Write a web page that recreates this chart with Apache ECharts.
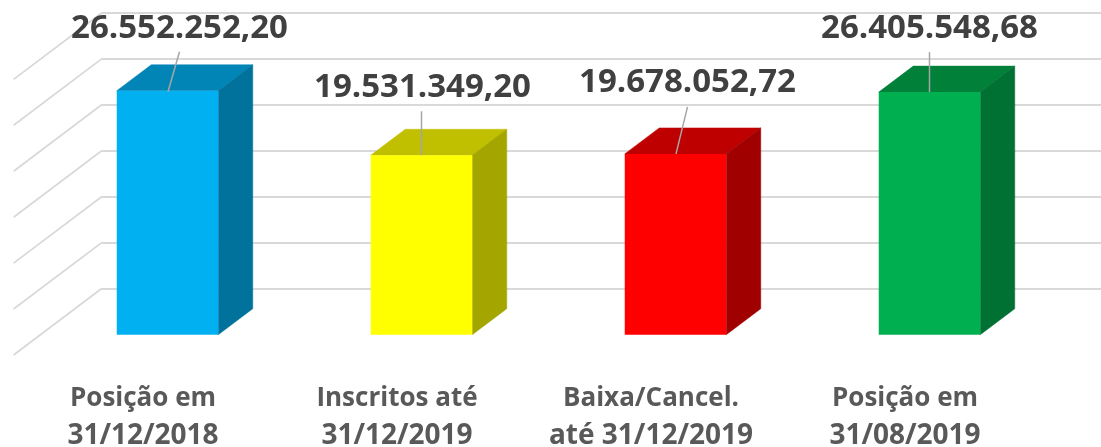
<!DOCTYPE html>
<html><head><meta charset="utf-8">
<style>html,body{margin:0;padding:0;background:#fff}#c{width:1101px;height:447px}</style>
<script src="https://cdn.jsdelivr.net/npm/echarts@6/dist/echarts.min.js"></script>
</head><body><div id="c"></div>
<script>
const categories = ['Posição em\n31/12/2018','Inscritos até\n31/12/2019','Baixa/Cancel.\naté 31/12/2019','Posição em\n31/08/2019'];
const values = [26552252.20, 19531349.20, 19678052.72, 26405548.68];
const valueLabels = ['26.552.252,20','19.531.349,20','19.678.052,72','26.405.548,68'];
const wallTicks = [0,5000000,10000000,15000000,20000000,25000000,30000000];
const frontColors = ['#00B0F0','#FFFF00','#FF0000','#00B050'];
const topColors = ['#0085B6','#C0BF00','#BF0000','#008039'];
const sideColors = ['#00729C','#A5A500','#A00000','#007033'];

// layout
const floorDepth = {dx:88.4, dy:66.7};
const barFront = {dx:61.5, dy:46.4};
const barDepth = {dx:34.5, dy:26};
const barWidth = 101.5;
const labelText = [{dx:12,dy:-62},{dx:1,dy:-68},{dx:12,dy:-71},{dx:0,dy:-64}];
const leader = [{dx0:0.5,dy0:1,dx1:12,dy1:-39},{dx0:0,dy0:0,dx1:0,dy1:-44},{dx0:0.5,dy0:0,dx1:12,dy1:-47},{dx0:0,dy0:0,dx1:0,dy1:-40}];

function wallItem(params, api){
  const p = api.coord([0, api.value(0)]);
  const x = params.coordSys.x;
  return {type:'line', silent:true,
    shape:{x1:x, y1:p[1], x2:x-floorDepth.dx, y2:p[1]+floorDepth.dy},
    style:{stroke:'#D9D9D9', lineWidth:1.8, fill:null}};
}
function barItem(params, api){
  const i = params.dataIndex;
  const base = api.coord([api.value(0), 0]);
  const top = api.coord([api.value(0), api.value(1)]);
  const cx = base[0]-barFront.dx;
  const l = cx-barWidth/2, r = cx+barWidth/2;
  const b = base[1]+barFront.dy, t = top[1]+barFront.dy;
  const dx = barDepth.dx, dy = barDepth.dy;
  const poly = (pts,fill)=>({type:'polygon', shape:{points:pts}, style:{fill, stroke:fill, lineWidth:0.5}});
  const a = labelText[i], ln = leader[i];
  return {type:'group', children:[
    poly([[l,t],[r,t],[r+dx,t-dy],[l+dx,t-dy]], topColors[i]),
    poly([[r,t],[r+dx,t-dy],[r+dx,b-dy],[r,b]], sideColors[i]),
    {type:'rect', shape:{x:l,y:t,width:barWidth,height:b-t}, style:{fill:frontColors[i]}},
    {type:'line', shape:{x1:cx+ln.dx0,y1:t+ln.dy0,x2:cx+ln.dx1,y2:t+ln.dy1}, style:{stroke:'#A6A6A6',lineWidth:1.5,fill:null}},
    {type:'text', z2:10, style:{text:valueLabels[i], x:cx+a.dx, y:t+a.dy, align:'center', verticalAlign:'middle',
      fill:'#404040', font:'bold 33px "Open Sans"'}}
  ]};
}
const labelLine = {color:'#595959', fontFamily:'Open Sans', fontWeight:'bold', lineHeight:38, align:'center'};
const chart = echarts.init(document.getElementById('c'), null, {renderer:'canvas'});
chart.setOption({
  animation:false,
  backgroundColor:'#fff',
  grid:{left:102, top:12.7, width:1016, height:275.6, containLabel:false, outerBoundsMode:'none'},
  xAxis:{type:'category', data:categories, axisLine:{show:false}, axisTick:{show:false},
    splitLine:{show:false},
    axisLabel:{interval:0, margin:91, color:'#595959', fontFamily:'Open Sans', fontWeight:'bold', fontSize:26, lineHeight:38, align:'center', padding:[0,172,0,0],
      formatter:(v)=>{const p=v.split('\n');return '{a|'+p[0]+'}\n{b|'+p[1]+'}';},
      rich:{a:Object.assign({fontSize:26},labelLine), b:Object.assign({fontSize:28},labelLine)}}},
  yAxis:{type:'value', min:0, max:30000000, interval:5000000, axisLine:{show:false}, axisTick:{show:false}, axisLabel:{show:false},
    splitLine:{show:true, lineStyle:{color:'#D9D9D9', width:1.8}}},
  series:[
    {type:'custom', name:'Parede', data:wallTicks.map(v=>[v]), renderItem:wallItem, encode:{y:0}, silent:true, clip:false, z:1},
    {type:'custom', name:'Valor', data:values.map((v,i)=>[i,v]), renderItem:barItem, encode:{x:0,y:1}, clip:false, z:3}
  ]
});
</script></body></html>
